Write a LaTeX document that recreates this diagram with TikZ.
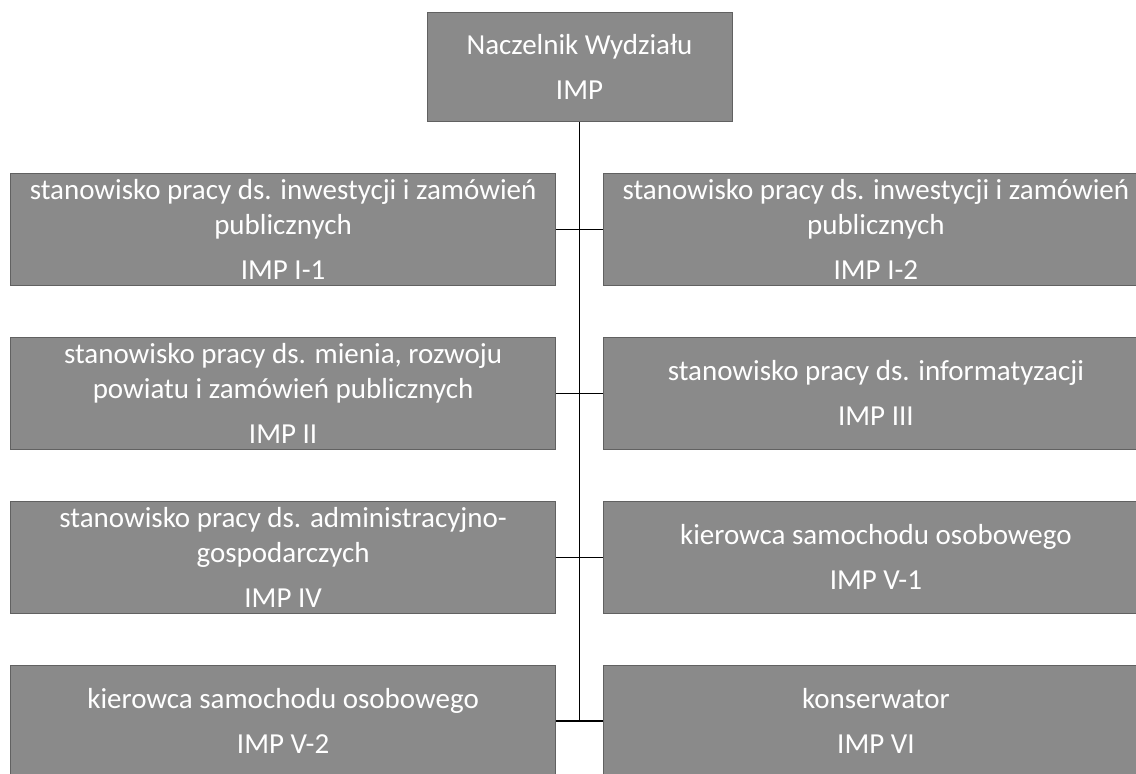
\documentclass[tikz,border=0pt]{standalone}
\usepackage{fontspec}
\setmainfont{Carlito}
\usepackage{tikz}
\usetikzlibrary{matrix}
\usetikzlibrary{positioning}
\usepackage{xcolor}

\definecolor{boxgray}{RGB}{138,138,138}

\tikzset{
  posbox/.style={fill=boxgray, draw=boxgray!70!black, line width=0.8pt,
    text=white, align=center, inner sep=2pt,
    minimum width=545pt, minimum height=112pt,
    font=\fontsize{29}{35}\selectfont},
  link/.style={draw=black, line width=1.3pt},
}

\begin{document}
\begin{tikzpicture}[x=1pt, y=-1pt]
  \useasboundingbox (0,0) rectangle (1136,774);

  \matrix [
    anchor=north west, inner sep=0pt,
    column sep=47pt, row sep=51pt,
  ] (M) at (10,173) {
    \node[posbox] (M-1-1) {stanowisko pracy ds. inwestycji i zamówień\\publicznych\\[10pt]IMP I-1}; &
    \node[posbox] (M-1-2) {stanowisko pracy ds. inwestycji i zamówień\\publicznych\\[10pt]IMP I-2}; \\
    \node[posbox] (M-2-1) {stanowisko pracy ds. mienia, rozwoju\\powiatu i zamówień publicznych\\[10pt]IMP II}; &
    \node[posbox] (M-2-2) {stanowisko pracy ds. informatyzacji\\[10pt]IMP III}; \\
    \node[posbox] (M-3-1) {stanowisko pracy ds. administracyjno-\\gospodarczych\\[10pt]IMP IV}; &
    \node[posbox] (M-3-2) {kierowca samochodu osobowego\\[10pt]IMP V-1}; \\
    \node[posbox] (M-4-1) {kierowca samochodu osobowego\\[10pt]IMP V-2}; &
    \node[posbox] (M-4-2) {konserwator\\[10pt]IMP VI}; \\
  };

  \node[posbox, minimum width=305pt, minimum height=109pt, above=51pt of M] (N)
    {Naczelnik Wydziału\\[10pt]IMP};

    \draw[link] (N.south) -- (N.south |- M-4-1.east);

    \draw[link] (M-1-1.east) -- (M-1-2.west);
    \draw[link] (M-2-1.east) -- (M-2-2.west);
    \draw[link] (M-3-1.east) -- (M-3-2.west);
    \draw[link] (M-4-1.east) -- (M-4-2.west);

\end{tikzpicture}
\end{document}
